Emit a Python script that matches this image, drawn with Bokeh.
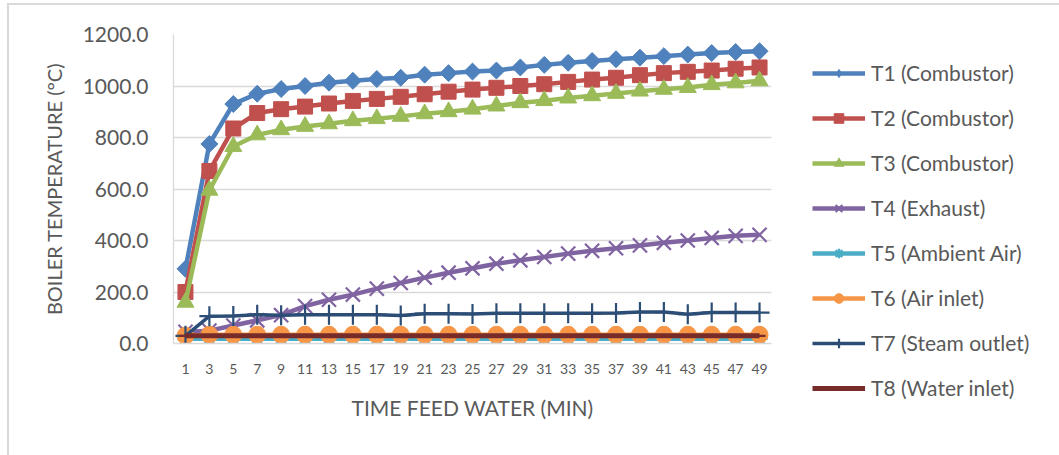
from bokeh.plotting import figure
from bokeh.models import (Legend, LegendItem, NumeralTickFormatter, FixedTicker, Range1d)
from bokeh.embed import file_html
from bokeh.resources import INLINE
import numpy as np

minutes = ["1", "3", "5", "7", "9", "11", "13", "15", "17", "19", "21", "23", "25",
           "27", "29", "31", "33", "35", "37", "39", "41", "43", "45", "47", "49"]

t1 = [290, 775, 930, 970, 988, 1000, 1013, 1020, 1027, 1032, 1044, 1050, 1056,
      1060, 1072, 1082, 1090, 1097, 1104, 1110, 1116, 1122, 1128, 1132, 1135]
t2 = [200, 670, 835, 895, 910, 920, 932, 942, 950, 958, 968, 978, 986,
      993, 1000, 1007, 1016, 1025, 1032, 1042, 1050, 1055, 1060, 1067, 1072]
t3 = [160, 595, 765, 810, 830, 843, 853, 865, 873, 882, 892, 900, 910,
      922, 935, 943, 953, 962, 971, 980, 987, 994, 1005, 1012, 1020]
t4 = [45, 50, 70, 90, 110, 145, 170, 190, 213, 235, 256, 275, 292,
      310, 323, 336, 349, 360, 370, 381, 391, 400, 410, 418, 422]
t5 = [18, 18, 18, 18, 18, 18, 18, 18, 18, 18, 18, 18, 18,
      18, 18, 18, 18, 18, 18, 18, 18, 18, 18, 18, 18]
t6 = [30, 34, 34, 34, 34, 34, 34, 34, 34, 34, 34, 34, 34,
      34, 34, 34, 34, 34, 34, 34, 34, 34, 34, 34, 34]
t7 = [30, 106, 107, 112, 110, 112, 112, 112, 112, 109, 116, 116, 115,
      117, 117, 117, 117, 117, 118, 122, 122, 114, 120, 120, 120]
t8 = [30, 30, 30, 30, 30, 30, 30, 30, 30, 30, 30, 30, 30,
      30, 30, 30, 30, 30, 30, 30, 30, 30, 30, 30, 30]

names = ["T1 (Combustor)", "T2 (Combustor)", "T3 (Combustor)", "T4 (Exhaust)",
         "T5 (Ambient Air)", "T6 (Air inlet)", "T7 (Steam outlet)", "T8 (Water inlet)"]
series = [t1, t2, t3, t4, t5, t6, t7, t8]
colors = ["#4F81BD", "#C0504D", "#9BBB59", "#8064A2", "#4BACC6", "#F79646", "#2C4D75", "#772C2A"]
markers = ["square", "square", "triangle", "x", "asterisk", "circle", "cross", "dash"]
angles = [np.pi / 4, 0, 0, 0, 0, 0, 0, 0]
msizes = [12, 15, 17, 20, 16, 17, 20, 12]
lwidths = [4.5, 4.5, 4.5, 4.5, 4.5, 4.5, 3.5, 5]

FONT = "Lato"
TXT = "#595959"

p = figure(x_range=minutes, y_range=Range1d(0, 1200), frame_width=598, frame_height=309,
           output_backend="svg", toolbar_location=None,
           min_border_left=164, min_border_right=0, min_border_top=29, min_border_bottom=112)
p.margin = (3, 0, 0, 7)
p.styles = {"border-left": "2px solid #D9D9D9", "border-top": "2px solid #D9D9D9"}
p.x_range.range_padding = 0
p.outline_line_color = None
p.background_fill_color = "white"
p.border_fill_color = "white"

p.xgrid.grid_line_color = None
p.ygrid.grid_line_color = "#D9D9D9"
p.ygrid.grid_line_width = 1.3
p.yaxis.ticker = FixedTicker(ticks=[0, 200, 400, 600, 800, 1000, 1200])
p.yaxis.formatter = NumeralTickFormatter(format="0.0")

for ax in (p.xaxis[0], p.yaxis[0]):
    ax.axis_line_color = "#D9D9D9"
    ax.axis_line_width = 1.3
    ax.major_tick_line_color = None
    ax.minor_tick_line_color = None
    ax.major_tick_out = 0
    ax.major_tick_in = 0
    ax.major_label_text_font = FONT
    ax.major_label_text_color = TXT
    ax.axis_label_text_font = FONT
    ax.axis_label_text_color = TXT
    ax.axis_label_text_font_style = "normal"

p.yaxis.axis_label = "BOILER TEMPERATURE (°C)"
p.yaxis.major_label_text_font_size = "21px"
p.yaxis.axis_label_text_font_size = "20px"
p.yaxis.major_label_standoff = 25
p.yaxis.axis_label_standoff = 14

p.xaxis.axis_label = "TIME FEED WATER (MIN)"
p.xaxis.major_label_text_font_size = "14px"
p.xaxis.axis_label_text_font_size = "21px"
p.xaxis.major_label_standoff = 20
p.xaxis.axis_label_standoff = 18

items = []
for name, ys, c, m, a, s, lw in zip(names, series, colors, markers, angles, msizes, lwidths):
    r1 = p.line(minutes, ys, line_color=c, line_width=lw, line_join="round")
    if m in ("x", "asterisk", "cross", "dash"):
        r2 = p.scatter(minutes, ys, marker=m, size=s, line_color=c, line_width=2.2,
                       fill_color=c)
    else:
        r2 = p.scatter(minutes, ys, marker=m, size=s, angle=a, fill_color=c,
                       line_color=c, line_width=1)
    rl = [r1, r2]
    if m == "square" and a != 0:
        # zero-size diamonds: invisible in the plot, give the legend a diamond symbol
        rd = p.scatter(minutes, ys, marker="diamond", size=0, fill_color=c,
                       line_color=None)
        rl = [r1, rd]
    items.append(LegendItem(label=name, renderers=rl))

legend = Legend(items=items, location=(41, -57), orientation="vertical",
                label_text_font=FONT, label_text_font_size="21px", label_text_color=TXT,
                glyph_width=53, glyph_height=24, label_height=24, spacing=20,
                label_standoff=6, padding=0, margin=0,
                border_line_color=None, background_fill_alpha=0)
p.add_layout(legend, "right")

open("out.html", "w").write(file_html(p, INLINE))
